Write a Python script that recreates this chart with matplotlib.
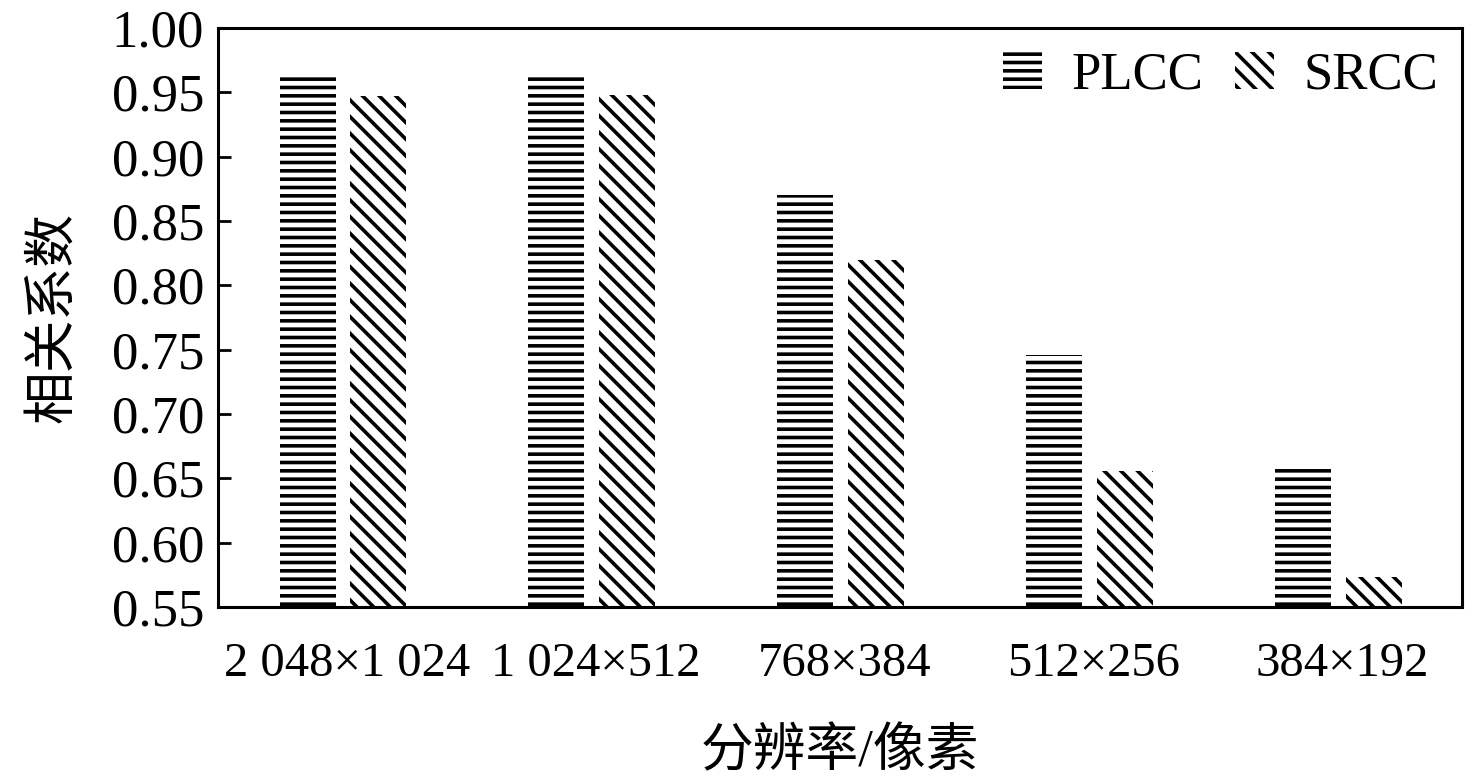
import numpy as np
import matplotlib.pyplot as plt
from matplotlib import rcParams

rcParams['font.family'] = ['Liberation Serif', 'Noto Sans CJK SC']
rcParams['font.size'] = 38
rcParams['hatch.linewidth'] = 2.6
rcParams['hatch.color'] = 'black'

# data
resolutions = ['2 048×1 024', '1 024×512', '768×384', '512×256', '384×192']
plcc = [0.964, 0.964, 0.870, 0.746, 0.658]
srcc = [0.947, 0.948, 0.820, 0.656, 0.573]

x = np.arange(len(resolutions))
w = 0.225

fig = plt.figure(figsize=(14.76, 7.77), dpi=100)
ax = fig.add_axes([218/1476, 1-607/777, (1462-218)/1476, (607-28)/777])

ax.bar(x - 0.14, plcc, w, color='white', edgecolor='black', linewidth=0,
       hatch='--', label='PLCC')
ax.bar(x + 0.145, srcc, w, color='white', edgecolor='black', linewidth=0,
       hatch='\\\\', label='SRCC')

ax.set_xlim(-0.5, 4.5)
ax.set_ylim(0.55, 1.00)
yt = np.arange(0.55, 1.001, 0.05)
ax.set_yticks(yt)
ax.set_yticklabels(['%.2f' % v for v in yt])
ax.set_xticks(x + 0.02)
ax.set_xticklabels(resolutions, fontsize=35)
ax.tick_params(axis='y', direction='in', length=9, width=2, pad=10)
ax.tick_params(axis='x', length=0, pad=25)
for s in ax.spines.values():
    s.set_linewidth(2.2)

ax.set_ylabel('相关系数', labelpad=24)
ax.set_xlabel('分辨率/像素', labelpad=30)

ax.legend(loc='upper right', frameon=False, ncol=2, handlelength=0.75,
          handleheight=0.7, handletextpad=0.55, columnspacing=0.6,
          borderaxespad=0.05, fontsize=38)

fig.savefig('out.png', dpi=100)
